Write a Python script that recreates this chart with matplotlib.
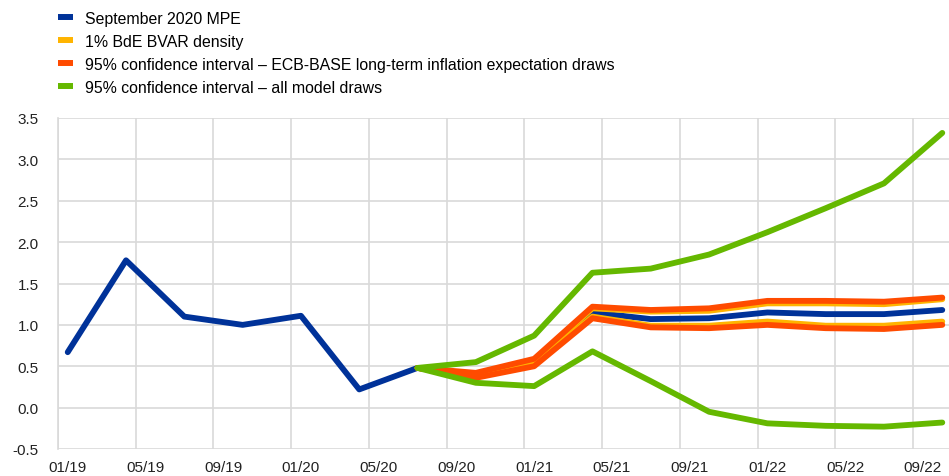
import numpy as np
import matplotlib
matplotlib.use('Agg')
import matplotlib.pyplot as plt
from matplotlib.lines import Line2D

plt.rcParams['font.family'] = ['Liberation Sans', 'DejaVu Sans']

# quarterly observation dates (mm/yy)
dates = ['01/19', '04/19', '07/19', '10/19', '01/20', '04/20', '07/20', '10/20',
         '01/21', '04/21', '07/21', '10/21', '01/22', '04/22', '07/22', '10/22']
mpe = [0.67, 1.78, 1.10, 1.00, 1.11, 0.22, 0.48, 0.38,
       0.54, 1.15, 1.07, 1.08, 1.15, 1.13, 1.13, 1.18]

# bands start at 07/20
band_dates = dates[6:]
bvar_hi = [0.48, 0.40, 0.57, 1.20, 1.16, 1.17, 1.26, 1.26, 1.25, 1.31]
bvar_lo = [0.48, 0.38, 0.52, 1.10, 0.99, 0.99, 1.04, 0.99, 0.99, 1.04]
ecb_hi = [0.48, 0.42, 0.59, 1.22, 1.18, 1.20, 1.29, 1.29, 1.28, 1.33]
ecb_lo = [0.48, 0.36, 0.50, 1.08, 0.97, 0.96, 1.00, 0.96, 0.95, 1.00]
all_hi = [0.48, 0.55, 0.87, 1.63, 1.68, 1.85, 2.12, 2.41, 2.71, 3.32]
all_lo = [0.48, 0.30, 0.26, 0.68, 0.32, -0.05, -0.19, -0.22, -0.23, -0.18]

tick_labels = ['01/19', '05/19', '09/19', '01/20', '05/20', '09/20',
               '01/21', '05/21', '09/21', '01/22', '05/22', '09/22']

BLUE = '#003299'
YELLOW = '#FFB400'
ORANGE = '#FF4B00'
GREEN = '#65B800'


def month_index(d):
    mm, yy = d.split('/')
    return (int(yy) - 19) * 12 + int(mm) - 1


x = [month_index(d) for d in dates]
xb = [month_index(d) for d in band_dates]
n_months = x[-1] + 1

fig = plt.figure(figsize=(9.49, 4.77), dpi=100)
ax = fig.add_axes([58 / 949, 1 - 450 / 477, (952 - 58) / 949, (450 - 119) / 477])

lw = 4.2
ax.plot(x, mpe, color=BLUE, lw=lw, solid_capstyle='round', zorder=3)
for s in (bvar_hi, bvar_lo):
    ax.plot(xb, s, color=YELLOW, lw=lw, solid_capstyle='round', zorder=4)
for s in (ecb_hi, ecb_lo):
    ax.plot(xb, s, color=ORANGE, lw=lw, solid_capstyle='round', zorder=5)
for s in (all_hi, all_lo):
    ax.plot(xb, s, color=GREEN, lw=lw, solid_capstyle='round', zorder=6)

ax.set_xlim(-0.5, n_months - 0.5)
ax.set_ylim(-0.5, 3.5)
ax.set_yticks(np.arange(-0.5, 3.51, 0.5))
ax.set_yticklabels(['%.1f' % v for v in np.arange(-0.5, 3.51, 0.5)])
ax.set_xticks([month_index(t) for t in tick_labels])
ax.set_xticklabels(tick_labels)
ax.set_xticks(np.arange(-0.5, n_months, 4), minor=True)
ax.tick_params(axis='both', which='both', length=0, labelsize=11, colors='#222222')
ax.tick_params(axis='y', pad=14)
ax.tick_params(axis='x', pad=8)
ax.grid(axis='y', which='major', color='#d9d9d9', lw=1.2)
ax.grid(axis='x', which='minor', color='#d9d9d9', lw=1.2)
ax.set_axisbelow(True)
for side in ('top', 'right', 'bottom'):
    ax.spines[side].set_visible(False)
ax.spines['left'].set_color('#d9d9d9')
ax.spines['left'].set_linewidth(1.2)

handles = [Line2D([], [], color=c, lw=4.3, solid_capstyle='butt') for c in (BLUE, YELLOW, ORANGE, GREEN)]
labels = ['September 2020 MPE', '1% BdE BVAR density',
          '95% confidence interval \u2013 ECB-BASE long-term inflation expectation draws',
          '95% confidence interval \u2013 all model draws']
fig.legend(handles, labels, loc='upper left', bbox_to_anchor=(58 / 949, 1 - 12 / 477),
           frameon=False, fontsize=11.4, handlelength=0.96, handletextpad=0.76,
           labelspacing=0.5, borderaxespad=0, borderpad=0)

fig.savefig('out.png', dpi=100)
